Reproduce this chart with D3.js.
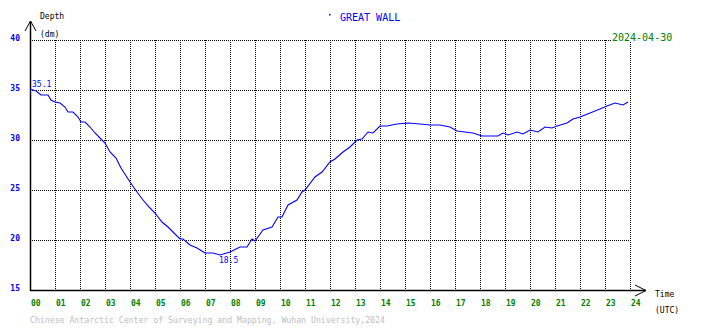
<!DOCTYPE html>
<html>
<head>
<meta charset="utf-8">
<script src="https://cdn.jsdelivr.net/npm/d3@7"></script>
<style>
  body { margin: 0; background: #fff; }
  svg text { font-family: "DejaVu Sans Mono", monospace; }
</style>
</head>
<body>
<svg width="710" height="328"></svg>
<script>
var svg = d3.select("svg");

// tide readings, hour (UTC) and depth (dm)
var hours = [0,0.24,0.44,0.72,0.84,1,1.2,1.4,1.52,1.72,1.92,2.04,2.2,2.4,2.6,2.8,3,3.2,3.44,3.64,
    4,4.28,4.52,4.8,5,5.28,5.52,5.72,6,6.12,6.4,6.68,7,7.32,7.6,8,8.4,8.68,8.88,9,
    9.32,9.68,9.92,10.08,10.32,10.68,10.88,11,11.4,11.68,12,12.2,12.52,12.8,13.08,13.28,13.52,13.72,14,14.28,
    14.68,15.12,15.6,16,16.4,16.8,17.08,17.4,17.72,18.08,18.4,18.72,18.92,19.12,19.48,19.72,20,20.32,20.6,20.88,
    21.08,21.48,21.72,22,22.4,22.8,23.08,23.4,23.72,23.92];
var depth = [35.1,34.9,34.5,34.5,34.0,33.8,33.7,33.3,32.8,32.8,32.3,31.8,31.8,31.3,30.7,30.2,29.7,28.8,28.2,27.2,
    25.8,24.8,24.0,23.2,22.7,21.8,21.3,20.8,20.1,20.1,19.5,19.2,18.7,18.7,18.5,18.8,19.3,19.3,20.1,19.9,
    21.0,21.3,22.3,22.3,23.5,24.0,24.8,25.0,26.3,26.8,27.8,28.1,28.8,29.3,30.0,30.1,30.8,30.7,31.4,31.4,
    31.6,31.7,31.6,31.5,31.5,31.3,30.9,30.8,30.7,30.4,30.4,30.4,30.7,30.5,30.8,30.6,31.0,30.8,31.3,31.2,
    31.4,31.7,32.1,32.3,32.7,33.1,33.4,33.7,33.5,33.8];

var xTicks = d3.range(0, 25);
var yTicks = [15, 20, 25, 30, 35, 40];
var station = "GREAT WALL";
var dateLabel = "2024-04-30";
var credit = "Chinese Antarctic Center of Surveying and Mapping, Wuhan University,2024";

var x = d3.scaleLinear().domain([0, 24]).range([30, 630]);
var y = d3.scaleLinear().domain([15, 40]).range([290, 40]);

var data = hours.map(function(h, i) { return { h: h, v: depth[i] }; });

// grid
var grid = svg.append("g")
    .attr("stroke", "#000")
    .attr("stroke-dasharray", "1,1")
    .attr("shape-rendering", "crispEdges");

grid.selectAll("line.v")
    .data(xTicks.slice(1))
    .enter().append("line")
    .attr("x1", function(d) { return x(d) + 0.5; })
    .attr("x2", function(d) { return x(d) + 0.5; })
    .attr("y1", y(40))
    .attr("y2", y(15));

grid.selectAll("line.h")
    .data(yTicks.slice(1))
    .enter().append("line")
    .attr("x1", x(0))
    .attr("x2", x(24))
    .attr("y1", function(d) { return y(d) + 0.5; })
    .attr("y2", function(d) { return y(d) + 0.5; });

// axes with open arrows
var axes = svg.append("g").attr("stroke", "#000").attr("fill", "none").attr("stroke-width", 1.5);
axes.append("line").attr("x1", 30.5).attr("x2", 30.5).attr("y1", 21).attr("y2", 291);
axes.append("path").attr("d", "M25,31L30.5,21L36,31").attr("stroke-width", 1);
axes.append("line").attr("x1", 30).attr("x2", 646).attr("y1", 290.5).attr("y2", 290.5);
axes.append("path").attr("d", "M635,285L646,290.5L635,296").attr("stroke-width", 1);

// tick labels
svg.append("g").selectAll("text")
    .data(yTicks)
    .enter().append("text")
    .attr("x", 20)
    .attr("y", function(d) { return y(d) + 1; })
    .attr("text-anchor", "end")
    .attr("font-size", 8)
    .attr("font-weight", "bold")
    .attr("fill", "#0000ff")
    .text(function(d) { return d; });

svg.append("g").selectAll("text")
    .data(xTicks)
    .enter().append("text")
    .attr("x", function(d) { return x(d) + 1; })
    .attr("y", 306)
    .attr("font-size", 8)
    .attr("font-weight", "bold")
    .attr("fill", "#008000")
    .text(function(d) { return d3.format("02d")(d); });

// axis titles
svg.append("text").attr("x", 40).attr("y", 19).attr("font-size", 8).text("Depth");
svg.append("text").attr("x", 40).attr("y", 37).attr("font-size", 8).text("(dm)");
svg.append("text").attr("x", 655).attr("y", 297).attr("font-size", 8).text("Time");
svg.append("text").attr("x", 655).attr("y", 313).attr("font-size", 8).text("(UTC)");

// title and date
svg.append("rect").attr("x", 329).attr("y", 14).attr("width", 1.5).attr("height", 1.5).attr("fill", "#0000ff");
svg.append("text").attr("x", 340).attr("y", 21).attr("font-size", 10).attr("fill", "#0000ff").text(station);
svg.append("rect").attr("x", 611).attr("y", 30).attr("width", 62).attr("height", 12).attr("fill", "#fff");
svg.append("text").attr("x", 612).attr("y", 41).attr("font-size", 10).attr("fill", "#008000").text(dateLabel);

// tide curve
var line = d3.line()
    .x(function(d) { return x(d.h); })
    .y(function(d) { return y(d.v); });

svg.append("path")
    .datum(data)
    .attr("d", line)
    .attr("fill", "none")
    .attr("stroke", "#0000ff")
    .attr("stroke-width", 1.1);

// first value and minimum labels
var first = data[0];
var low = data.reduce(function(a, b) { return b.v < a.v ? b : a; });

svg.append("text")
    .attr("x", x(first.h) + 2)
    .attr("y", y(first.v) - 2)
    .attr("font-size", 8)
    .attr("fill", "#0000ff")
    .text(first.v.toFixed(1));

svg.append("text")
    .attr("x", x(low.h) - 1)
    .attr("y", y(low.v) + 8)
    .attr("font-size", 8)
    .attr("fill", "#0000ff")
    .text(low.v.toFixed(1));

// credit
svg.append("text")
    .attr("x", 30)
    .attr("y", 323)
    .attr("font-size", 8.2)
    .attr("fill", "#c0c0c0")
    .text(credit);
</script>
</body>
</html>
